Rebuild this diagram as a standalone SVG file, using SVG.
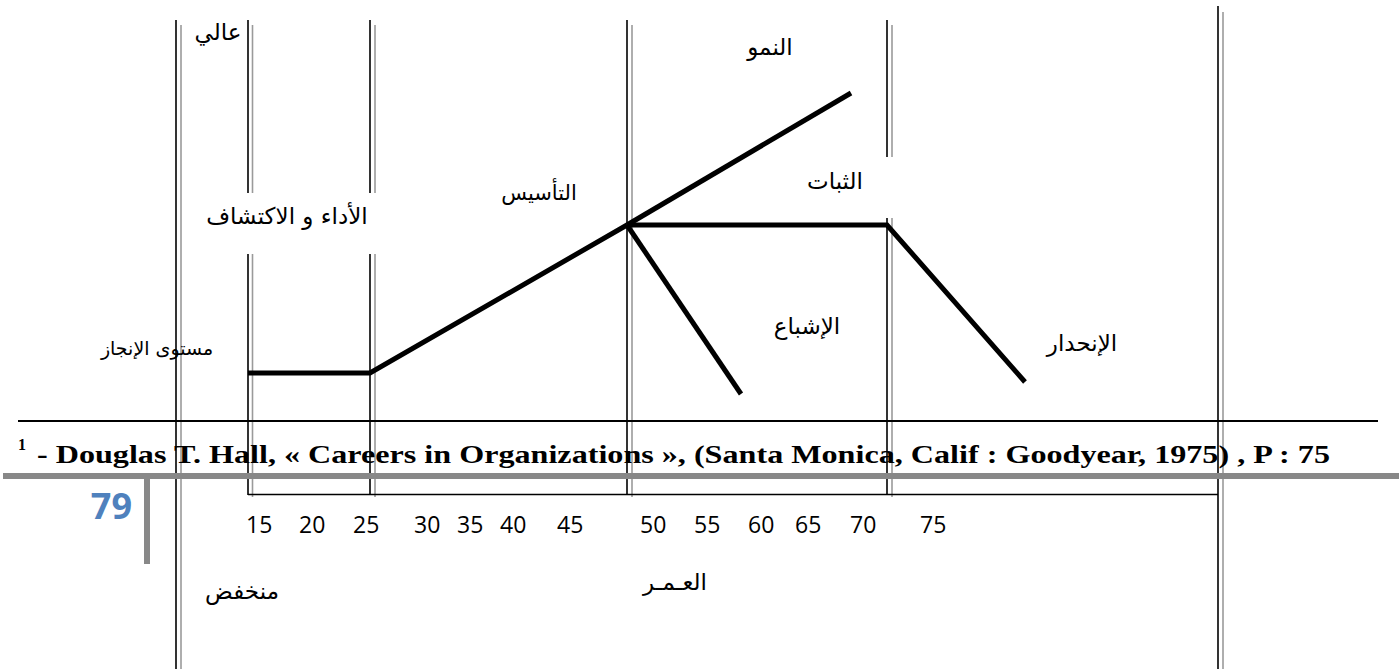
<svg xmlns="http://www.w3.org/2000/svg" width="1399" height="669" viewBox="0 0 1399 669">
  <style>
    .blk { stroke: #000; stroke-width: 1.6; fill: none; }
    .gry { stroke: #9a9a9a; stroke-width: 1.6; fill: none; }
    .curve { stroke: #000; stroke-width: 5; fill: none; stroke-linejoin: miter; }
    .ar { font-family: "DejaVu Sans", "Noto Sans", sans-serif; font-size: 23px; fill: #000; text-anchor: middle; direction: rtl; }
    .num { font-family: "Open Sans", "Noto Sans", sans-serif; font-size: 23px; fill: #000; }
    .ref { font-family: "Liberation Serif", serif; font-weight: bold; fill: #000; }
  </style>
  <rect width="1399" height="669" fill="#fff"/>

  <!-- column dividers: black rule with a grey shadow line -->
  <g id="dividers">
    <line class="blk" x1="176" y1="20" x2="176" y2="669"/>
    <line class="gry" x1="181" y1="25" x2="181" y2="669"/>

    <line class="blk" x1="248" y1="20" x2="248" y2="193"/>
    <line class="gry" x1="252.5" y1="25" x2="252.5" y2="193"/>
    <line class="blk" x1="248" y1="254" x2="248" y2="495"/>
    <line class="gry" x1="252.5" y1="254" x2="252.5" y2="497"/>

    <line class="blk" x1="370" y1="20" x2="370" y2="193"/>
    <line class="gry" x1="375" y1="25" x2="375" y2="193"/>
    <line class="blk" x1="370" y1="254" x2="370" y2="495"/>
    <line class="gry" x1="375" y1="254" x2="375" y2="497"/>

    <line class="blk" x1="627" y1="20" x2="627" y2="495"/>
    <line class="gry" x1="632" y1="25" x2="632" y2="497"/>

    <line class="blk" x1="887" y1="20" x2="887" y2="157"/>
    <line class="gry" x1="892" y1="25" x2="892" y2="157"/>
    <line class="blk" x1="887" y1="218" x2="887" y2="495"/>
    <line class="gry" x1="892" y1="218" x2="892" y2="497"/>

    <line class="blk" x1="1218" y1="6" x2="1218" y2="669"/>
    <line class="gry" x1="1223" y1="12" x2="1223" y2="669"/>

    <!-- base of the age axis box -->
    <line class="blk" x1="248" y1="494.5" x2="1218" y2="494.5"/>
  </g>

  <!-- career curve -->
  <g id="connectors">
    <polyline class="curve" points="248,373 370,373 627,225"/>
    <line class="curve" x1="627" y1="225" x2="851" y2="93"/>
    <polyline class="curve" points="627,225 887,225 1025,382"/>
    <line class="curve" x1="627" y1="225" x2="741" y2="394"/>
  </g>

  <!-- stage labels -->
  <g id="stage-high"><text class="ar" x="218" y="40">عالي</text></g>
  <g id="stage-exploration"><text class="ar" x="287" y="224">الأداء و الاكتشاف</text></g>
  <g id="stage-establishment"><text class="ar" x="539" y="200" style="font-size:21px">التأسيس</text></g>
  <g id="stage-growth"><text class="ar" x="770" y="55">النمو</text></g>
  <g id="stage-maintenance"><text class="ar" x="835" y="189">الثبات</text></g>
  <g id="stage-saturation"><text class="ar" x="807" y="334">الإشباع</text></g>
  <g id="stage-decline"><text class="ar" x="1082" y="351">الإنحدار</text></g>
  <g id="axis-performance"><text class="ar" x="157" y="355" style="font-family:'DejaVu Serif','DejaVu Sans',serif;font-size:19px">مستوى الإنجاز</text></g>
  <g id="axis-low"><text class="ar" x="242" y="599">منخفض</text></g>
  <g id="axis-age"><text class="ar" x="675" y="590">العـمـر</text></g>

  <!-- age ticks -->
  <g id="age-scale" class="num">
    <text x="246" y="533">15</text>
    <text x="299" y="533">20</text>
    <text x="353" y="533">25</text>
    <text x="414" y="533">30</text>
    <text x="457" y="533">35</text>
    <text x="500" y="533">40</text>
    <text x="557" y="533">45</text>
    <text x="640" y="533">50</text>
    <text x="694" y="533">55</text>
    <text x="748" y="533">60</text>
    <text x="795" y="533">65</text>
    <text x="850" y="533">70</text>
    <text x="920" y="533">75</text>
  </g>

  <!-- footnote and page furniture -->
  <g id="footnote">
    <line x1="18" y1="421" x2="1378" y2="421" stroke="#000" stroke-width="2"/>
    <text class="ref" x="18" y="450" font-size="16">1</text>
    <text class="ref" x="37" y="463" font-size="25.5" textLength="1293" lengthAdjust="spacingAndGlyphs">- Douglas T. Hall, « Careers in Organizations », (Santa Monica, Calif : Goodyear, 1975) , P : 75</text>
  </g>
  <g id="page-number">
    <rect x="3" y="473" width="1396" height="6" fill="#888"/>
    <rect x="144" y="479" width="6" height="85" fill="#888"/>
    <text x="132" y="519" text-anchor="end" font-family="'Open Sans', 'Noto Sans', sans-serif" font-weight="bold" font-size="36" fill="#4f81bd">79</text>
  </g>
</svg>
